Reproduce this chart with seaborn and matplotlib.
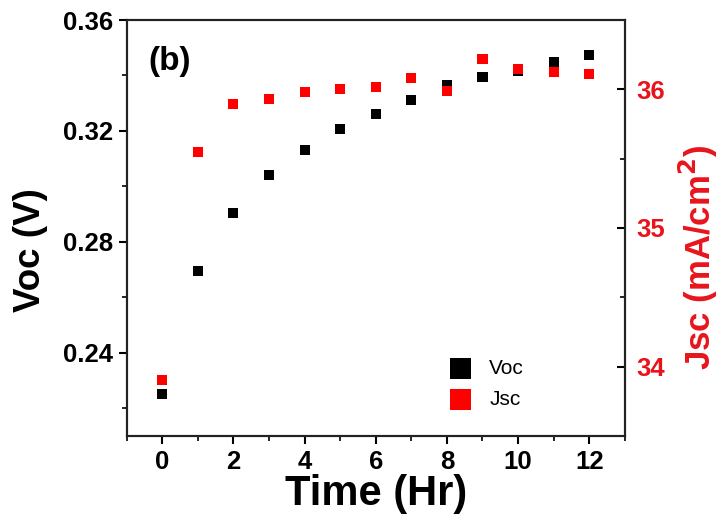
import matplotlib
matplotlib.use('Agg')
import matplotlib.pyplot as plt
import seaborn as sns
import pandas as pd
from matplotlib.ticker import MultipleLocator, FormatStrFormatter

# datos
tiempo = [0, 1, 2, 3, 4, 5, 6, 7, 8, 9, 10, 11, 12]
voc = [0.2252, 0.2694, 0.2903, 0.3040, 0.3130, 0.3206, 0.3261, 0.3310, 0.3364, 0.3395, 0.3416, 0.3450, 0.3474]
jsc = [33.904, 35.547, 35.897, 35.933, 35.980, 36.002, 36.020, 36.085, 35.990, 36.222, 36.147, 36.128, 36.110]

df = pd.DataFrame({'Tiempo': tiempo, 'Voc': voc, 'Jsc': jsc})

sns.set_style('ticks')
plt.rcParams['font.family'] = ['Liberation Sans', 'DejaVu Sans']
plt.rcParams['text.color'] = 'black'
plt.rcParams['axes.labelcolor'] = 'black'
plt.rcParams['xtick.color'] = 'black'
plt.rcParams['ytick.color'] = 'black'

rojo = '#E8141C'

fig, ax = plt.subplots(figsize=(7.24, 5.14), dpi=100)
fig.subplots_adjust(left=0.175, right=0.863, top=0.961, bottom=0.152)
ax2 = ax.twinx()

sns.scatterplot(data=df, x='Tiempo', y='Voc', ax=ax, marker='s', s=52,
                color='black', edgecolor='none', label='Voc', legend=False, zorder=3)
sns.scatterplot(data=df, x='Tiempo', y='Jsc', ax=ax2, marker='s', s=52,
                color='#FF0000', edgecolor='none', label='Jsc', legend=False, zorder=3)

ax.set_xlim(-1, 13)
ax.set_ylim(0.21, 0.36)
ax2.set_ylim(33.5, 36.5)

ax.xaxis.set_major_locator(MultipleLocator(2))
ax.xaxis.set_minor_locator(MultipleLocator(1))
ax.yaxis.set_major_locator(MultipleLocator(0.04))
ax.yaxis.set_minor_locator(MultipleLocator(0.02))
ax.yaxis.set_major_formatter(FormatStrFormatter('%.2f'))
ax2.yaxis.set_major_locator(MultipleLocator(1))
ax2.yaxis.set_minor_locator(MultipleLocator(0.5))

for a in (ax, ax2):
    for sp in a.spines.values():
        sp.set_visible(True)
        sp.set_linewidth(1.5)
        sp.set_color('#222222')

ax.tick_params(axis='both', which='major', direction='out', length=6, width=1.5,
               labelsize=18.5, pad=4)
ax.tick_params(axis='both', which='minor', direction='out', length=3.5, width=1.2)
ax.tick_params(axis='y', right=False)
ax.tick_params(axis='x', top=False)
ax2.tick_params(axis='y', which='major', direction='in', length=6, width=1.5,
                labelsize=18.5, labelcolor=rojo, pad=8)
ax2.tick_params(axis='y', which='minor', direction='in', length=3.5, width=1.2)

for lab in ax.get_xticklabels() + ax.get_yticklabels() + ax2.get_yticklabels():
    lab.set_fontweight('bold')

ax.set_xlabel('Time (Hr)', fontsize=30, fontweight='bold', labelpad=0)
ax.set_ylabel('Voc (V)', fontsize=26.5, fontweight='bold')
ax.yaxis.set_label_coords(-0.158, 0.447)
ax2.set_ylabel('Jsc (mA/cm$^\\mathbf{2}$)', fontsize=25, fontweight='bold', color=rojo)
ax2.yaxis.set_label_coords(1.105, 0.43)

ax.text(0.043, 0.9, '(b)', transform=ax.transAxes, fontsize=24, fontweight='bold',
        va='center', ha='left')

h1, l1 = ax.get_legend_handles_labels()
h2, l2 = ax2.get_legend_handles_labels()
ax2.legend(h1 + h2, l1 + l2, loc='center left', bbox_to_anchor=(0.59, 0.125),
           frameon=False, markerscale=2.1, fontsize=15, handletextpad=0.4,
           labelspacing=0.6)

plt.savefig('out.png', dpi=100)
plt.close()
